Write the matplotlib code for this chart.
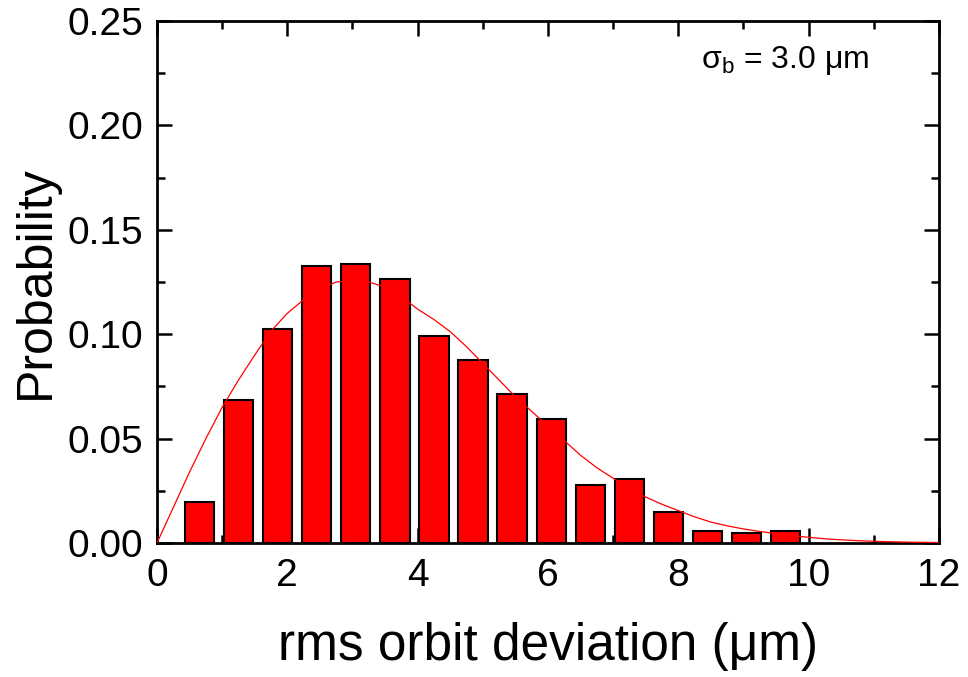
import matplotlib
matplotlib.use("Agg")
import matplotlib.pyplot as plt
from matplotlib.ticker import MultipleLocator, FormatStrFormatter

plt.rcParams['font.family'] = ['Liberation Sans', 'DejaVu Sans']
plt.rcParams['mathtext.fontset'] = 'custom'
plt.rcParams['mathtext.rm'] = 'Liberation Sans'
plt.rcParams['mathtext.it'] = 'Liberation Sans'

# Histogram bins (bin centers, µm) and probabilities
bin_centers = [0.65, 1.25, 1.85, 2.45, 3.05, 3.65, 4.25, 4.85,
               5.45, 6.05, 6.65, 7.25, 7.85, 8.45, 9.05, 9.65]
probability = [0.0195, 0.0685, 0.1026, 0.1327, 0.1335, 0.1264, 0.0993, 0.0876,
               0.0714, 0.0595, 0.0276, 0.0305, 0.0147, 0.0056, 0.0046, 0.0057]

# Fitted curve
fit_x = [0.0, 0.25, 0.5, 0.75, 1.0, 1.25, 1.5, 1.75, 2.0, 2.25, 2.5, 2.75,
         3.0, 3.25, 3.5, 3.75, 4.0, 4.25, 4.5, 4.75, 5.0, 5.25, 5.5, 5.75,
         6.0, 6.25, 6.5, 6.75, 7.0, 7.25, 7.5, 7.75, 8.0, 8.25, 8.5, 8.75,
         9.0, 9.25, 9.5, 9.75, 10.0, 10.25, 10.5, 10.75, 11.0, 11.25, 11.5,
         11.75, 12.0]
fit_y = [0.0, 0.017, 0.034, 0.050, 0.065, 0.078, 0.090, 0.1015, 0.110, 0.1165,
         0.1215, 0.1250, 0.1255, 0.1250, 0.1225, 0.1180, 0.1120, 0.1070,
         0.1012, 0.094, 0.086, 0.078, 0.070, 0.063, 0.056, 0.049, 0.042,
         0.036, 0.031, 0.026, 0.022, 0.0185, 0.0155, 0.0125, 0.0100, 0.0082,
         0.0067, 0.0055, 0.0045, 0.0035, 0.0027, 0.0020, 0.0015, 0.0011,
         0.0008, 0.0006, 0.0004, 0.0003, 0.0002]

fig = plt.figure(figsize=(9.68, 6.77), dpi=100)
ax = fig.add_axes([0.1622, 0.198, 0.8078, 0.771])

ax.bar(bin_centers, probability, width=0.45, color='#ff0000',
       edgecolor='black', linewidth=1.5, zorder=2)
ax.plot(fit_x, fit_y, color='#ff0000', linewidth=0.9, zorder=3)

ax.set_xlim(0, 12)
ax.set_ylim(0, 0.25)
ax.xaxis.set_major_locator(MultipleLocator(2))
ax.xaxis.set_minor_locator(MultipleLocator(1))
ax.yaxis.set_major_locator(MultipleLocator(0.05))
ax.yaxis.set_minor_locator(MultipleLocator(0.025))
ax.yaxis.set_major_formatter(FormatStrFormatter('%.2f'))

for s in ax.spines.values():
    s.set_linewidth(2.0)
ax.tick_params(which='both', direction='in', top=True, right=True, width=1.8)
ax.tick_params(which='major', length=11, labelsize=28)
ax.tick_params(which='minor', length=6)
ax.tick_params(axis='x', which='major', pad=11)
ax.tick_params(axis='y', which='major', pad=10)

ax.set_xlabel('rms orbit deviation (μm)', fontsize=37, labelpad=20)
ax.set_ylabel('Probability', fontsize=36, labelpad=6)

ax.text(8.35, 0.2275, r'$\mathregular{\sigma_b}$ = 3.0 μm', fontsize=23,
        ha='left', va='baseline')

fig.savefig('out.png', dpi=100)
